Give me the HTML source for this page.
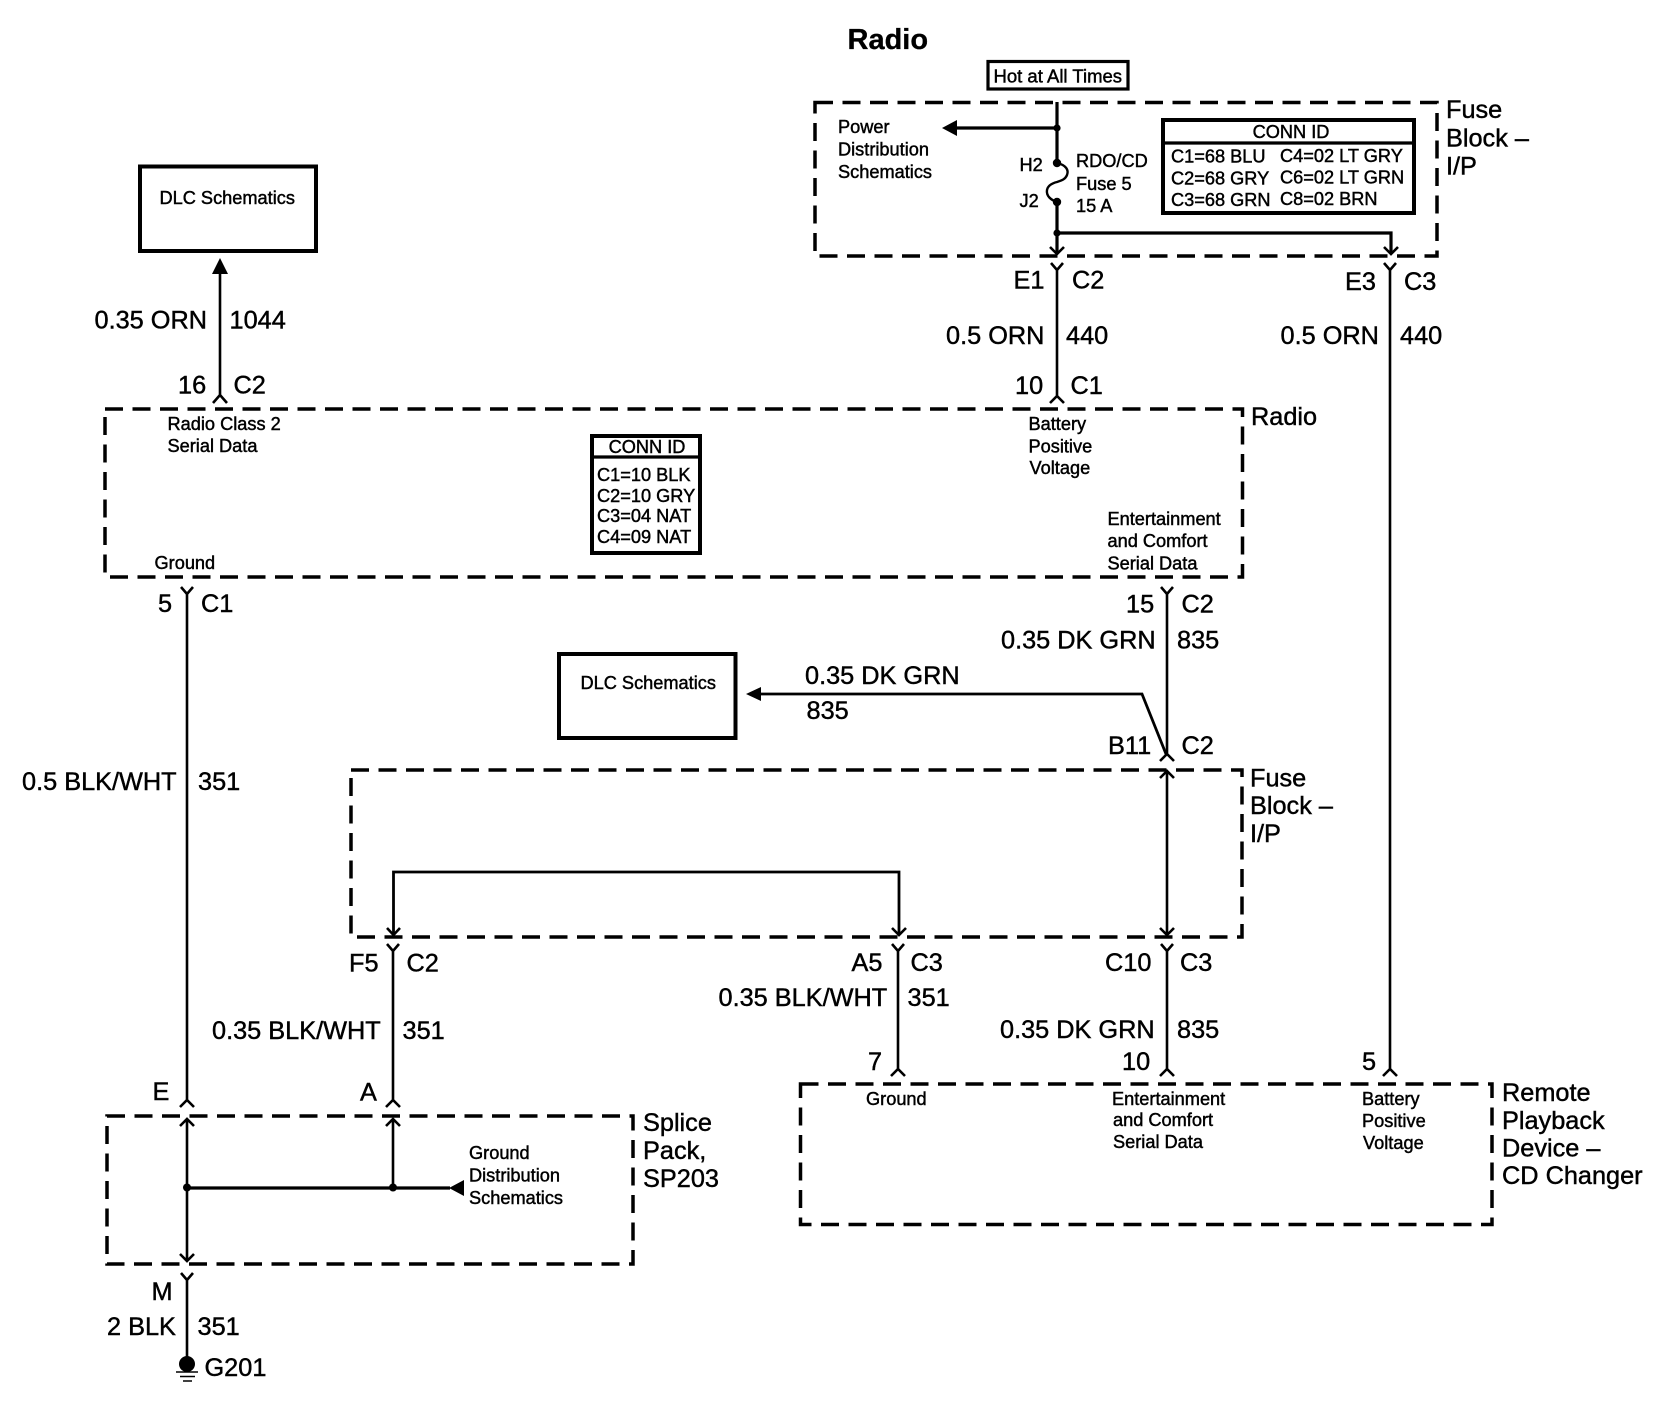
<!DOCTYPE html>
<html><head><meta charset="utf-8"><style>
html,body{margin:0;padding:0;background:#fff}
svg{display:block}
text{font-family:"Liberation Sans",sans-serif;fill:#000;stroke:#000;stroke-width:.45}
.s{font-size:18.2px}.b{font-size:25.3px}
.t{font-size:29px;font-weight:bold;stroke:#000;stroke-width:.3}
.m{text-anchor:middle}
.d{fill:none;stroke:#000;stroke-width:3.5;stroke-dasharray:18 9.5}
.w{fill:none;stroke:#000;stroke-width:2.6}
.h{fill:none;stroke:#000;stroke-width:3.2}
.x{fill:#fff;stroke:#000;stroke-width:4}
.f{fill:#000;stroke:none}
</style></head><body>
<svg width="1670" height="1408" viewBox="0 0 1670 1408" xmlns="http://www.w3.org/2000/svg">
<rect width="1670" height="1408" fill="#fff"/>
<text class="t" x="847.5" y="49">Radio</text>

<!-- dashed boxes -->
<rect class="d" x="815" y="102.5" width="622" height="153.5"/>
<rect class="d" x="105" y="409" width="1137.5" height="168"/>
<rect class="d" x="351" y="770" width="891" height="167"/>
<rect class="d" x="107" y="1116" width="526" height="148"/>
<rect class="d" x="800.5" y="1084" width="691.5" height="140.5"/>

<!-- Hot box -->
<rect class="x" x="988" y="61.5" width="140" height="27.5" style="stroke-width:3.2"/>
<text class="s" x="993.5" y="82.5" style="font-size:18.5px">Hot at All Times</text>

<!-- Top fuse block -->
<path class="h" d="M1058 102V163M1058 202V254M1058 233H1392V254M957 128H1058" transform="translate(-1 0)"/>
<path class="h" style="stroke-width:2.4" d="M1057 163C1066 165 1069 170 1067 175C1065 180 1060 181 1057 182C1053 183 1048 185 1047 190C1046 196 1051 200 1057 202"/>
<circle class="f" cx="1057" cy="128" r="3.6"/>
<circle class="f" cx="1057" cy="163" r="4.2"/>
<circle class="f" cx="1057" cy="202" r="4.2"/>
<circle class="f" cx="1057" cy="233" r="3.6"/>
<path class="f" d="M942 128L957 120V136Z"/>
<path class="w" d="M1050 247L1057 254L1064 247M1384 247L1391 254L1398 247"/>
<text class="s" x="838" y="133">Power</text>
<text class="s" x="838" y="155.5">Distribution</text>
<text class="s" x="838" y="178">Schematics</text>
<text class="s" x="1019.5" y="171">H2</text>
<text class="s" x="1019.5" y="207">J2</text>
<text class="s" x="1076" y="167">RDO/CD</text>
<text class="s" x="1076" y="190">Fuse 5</text>
<text class="s" x="1076" y="212">15 A</text>
<rect class="x" x="1163" y="120" width="251" height="93"/>
<path class="h" d="M1163 143H1414"/>
<text class="s m" x="1291" y="138">CONN ID</text>
<text class="s" x="1171" y="162.5">C1=68 BLU</text>
<text class="s" x="1171" y="184.5">C2=68 GRY</text>
<text class="s" x="1171" y="206">C3=68 GRN</text>
<text class="s" x="1280" y="162">C4=02 LT GRY</text>
<text class="s" x="1280" y="183.5">C6=02 LT GRN</text>
<text class="s" x="1280" y="205">C8=02 BRN</text>
<text class="b" x="1446" y="118">Fuse</text>
<text class="b" x="1446" y="146.5">Block –</text>
<text class="b" x="1446" y="174.5">I/P</text>

<!-- Wires E1, E3 -->
<path class="w" d="M1051 263L1057 270L1063 263M1057 270V396M1050 403L1057 396L1064 403"/>
<path class="w" d="M1384 263L1390 270L1396 263M1390 270V1069M1383 1076L1390 1069L1397 1076"/>
<text class="b" x="1013.5" y="288.5">E1</text>
<text class="b" x="1072" y="288.5">C2</text>
<text class="b" x="1345" y="290">E3</text>
<text class="b" x="1404" y="290">C3</text>
<text class="b" x="946" y="344">0.5 ORN</text>
<text class="b" x="1066" y="344">440</text>
<text class="b" x="1280.5" y="344">0.5 ORN</text>
<text class="b" x="1400" y="344">440</text>
<text class="b" x="1015" y="394">10</text>
<text class="b" x="1070.5" y="394">C1</text>

<!-- DLC 1 -->
<rect class="x" x="140" y="166.5" width="176" height="84.5"/>
<text class="s" x="159.5" y="204">DLC Schematics</text>
<path class="f" d="M220 258L228 274H212Z"/>
<path class="w" d="M220 270V395M213 403L220 395L227 403"/>
<text class="b" x="94.5" y="328.5">0.35 ORN</text>
<text class="b" x="229.5" y="328.5">1044</text>
<text class="b" x="178" y="393.5">16</text>
<text class="b" x="233.5" y="393.5">C2</text>

<!-- Radio box contents -->
<text class="b" x="1251" y="425">Radio</text>
<text class="s" x="167.5" y="430">Radio Class 2</text>
<text class="s" x="167.5" y="452">Serial Data</text>
<text class="s" x="154.5" y="569">Ground</text>
<rect class="x" x="592" y="436" width="108" height="117"/>
<path class="h" d="M592 457H700"/>
<text class="s m" x="647" y="453">CONN ID</text>
<text class="s" x="597" y="481">C1=10 BLK</text>
<text class="s" x="597" y="502">C2=10 GRY</text>
<text class="s" x="597" y="522">C3=04 NAT</text>
<text class="s" x="597" y="543">C4=09 NAT</text>
<text class="s" x="1028.5" y="430">Battery</text>
<text class="s" x="1028.5" y="452.5">Positive</text>
<text class="s" x="1029.5" y="474">Voltage</text>
<text class="s" x="1107.5" y="525">Entertainment</text>
<text class="s" x="1107.5" y="547">and Comfort</text>
<text class="s" x="1107.5" y="569.5">Serial Data</text>

<!-- Wire 351 left -->
<path class="w" d="M181 587L187 594L193 587M187 594V1100M180 1107L187 1100L194 1107"/>
<text class="b" x="158" y="612">5</text>
<text class="b" x="201" y="612">C1</text>
<text class="b" x="22" y="790">0.5 BLK/WHT</text>
<text class="b" x="198" y="790">351</text>

<!-- Wire 835 -->
<path class="w" d="M1161 587L1167 594L1173 587M1167 594V754M1160 761L1167 754L1174 761"/>
<path class="h" style="stroke-width:2.8" d="M760 694H1142L1166 754"/>
<path class="f" d="M746 694L761 687V701Z"/>
<text class="b" x="1126" y="612.5">15</text>
<text class="b" x="1181.5" y="612.5">C2</text>
<text class="b" x="1001" y="648.5">0.35 DK GRN</text>
<text class="b" x="1177" y="648.5">835</text>
<text class="b" x="805" y="684">0.35 DK GRN</text>
<text class="b" x="806.5" y="719">835</text>
<text class="b" x="1108" y="754">B11</text>
<text class="b" x="1181.5" y="754">C2</text>
<rect class="x" x="559" y="654" width="176.5" height="84"/>
<text class="s" x="580.5" y="689">DLC Schematics</text>

<!-- Fuse block 2 contents -->
<text class="b" x="1250" y="786.5">Fuse</text>
<text class="b" x="1250" y="814">Block –</text>
<text class="b" x="1250" y="842">I/P</text>
<path class="w" d="M1167 771V935M1160 778L1167 771L1174 778M1160 928L1167 935L1174 928"/>
<path class="h" d="M393.5 935V872H899V935" style="stroke-width:2.8"/>
<path class="w" d="M387 928L393.5 935L400 928M892 928L899 935L906 928"/>

<!-- Lower wires -->
<path class="w" d="M387 944L393 951L399 944M393 951V1100M386 1107L393 1100L400 1107"/>
<path class="w" d="M892 944L898 951L904 944M898 951V1069M891 1076L898 1069L905 1076"/>
<path class="w" d="M1161 944L1167 951L1173 944M1167 951V1069M1160 1076L1167 1069L1174 1076"/>
<text class="b" x="349" y="971.5">F5</text>
<text class="b" x="406.5" y="971.5">C2</text>
<text class="b" x="851.5" y="971">A5</text>
<text class="b" x="910.5" y="971">C3</text>
<text class="b" x="1105" y="971">C10</text>
<text class="b" x="1180" y="971">C3</text>
<text class="b" x="718.5" y="1006">0.35 BLK/WHT</text>
<text class="b" x="907.5" y="1006">351</text>
<text class="b" x="212" y="1039">0.35 BLK/WHT</text>
<text class="b" x="402.5" y="1039">351</text>
<text class="b" x="1000" y="1038">0.35 DK GRN</text>
<text class="b" x="1177" y="1038">835</text>
<text class="b" x="868" y="1070">7</text>
<text class="b" x="1122" y="1070">10</text>
<text class="b" x="1362" y="1070">5</text>
<text class="b" x="152.5" y="1100">E</text>
<text class="b" x="360" y="1100.5">A</text>

<!-- Splice pack -->
<path class="w" d="M187 1119V1261M180 1126L187 1119L194 1126M180 1254L187 1261L194 1254M393 1119V1188M386 1126L393 1119L400 1126"/>
<path class="h" d="M187 1188H450"/>
<path class="f" d="M449 1188L464 1180V1196Z"/>
<circle class="f" cx="187" cy="1187.5" r="4"/>
<circle class="f" cx="393" cy="1187.5" r="4"/>
<text class="s" x="469" y="1159">Ground</text>
<text class="s" x="469" y="1181.5">Distribution</text>
<text class="s" x="469" y="1204">Schematics</text>
<text class="b" x="643" y="1131">Splice</text>
<text class="b" x="643" y="1159">Pack,</text>
<text class="b" x="643" y="1187">SP203</text>

<!-- Ground -->
<path class="w" d="M181 1273L187 1280L193 1273M187 1280V1358"/>
<circle class="f" cx="187" cy="1364" r="8"/>
<path class="w" style="stroke-width:1.6" d="M176 1372H198M180 1376.5H195M183 1381H192"/>
<text class="b" x="151.5" y="1300">M</text>
<text class="b" x="107" y="1335">2 BLK</text>
<text class="b" x="197.5" y="1335">351</text>
<text class="b" x="204.5" y="1376">G201</text>

<!-- Remote -->
<text class="s" x="866" y="1105">Ground</text>
<text class="s" x="1112" y="1105">Entertainment</text>
<text class="s" x="1113" y="1126">and Comfort</text>
<text class="s" x="1113" y="1148">Serial Data</text>
<text class="s" x="1362" y="1105">Battery</text>
<text class="s" x="1362" y="1127">Positive</text>
<text class="s" x="1363" y="1149">Voltage</text>
<text class="b" x="1502" y="1101">Remote</text>
<text class="b" x="1502" y="1129">Playback</text>
<text class="b" x="1502" y="1156.5">Device –</text>
<text class="b" x="1502" y="1184">CD Changer</text>
</svg>
</body></html>
